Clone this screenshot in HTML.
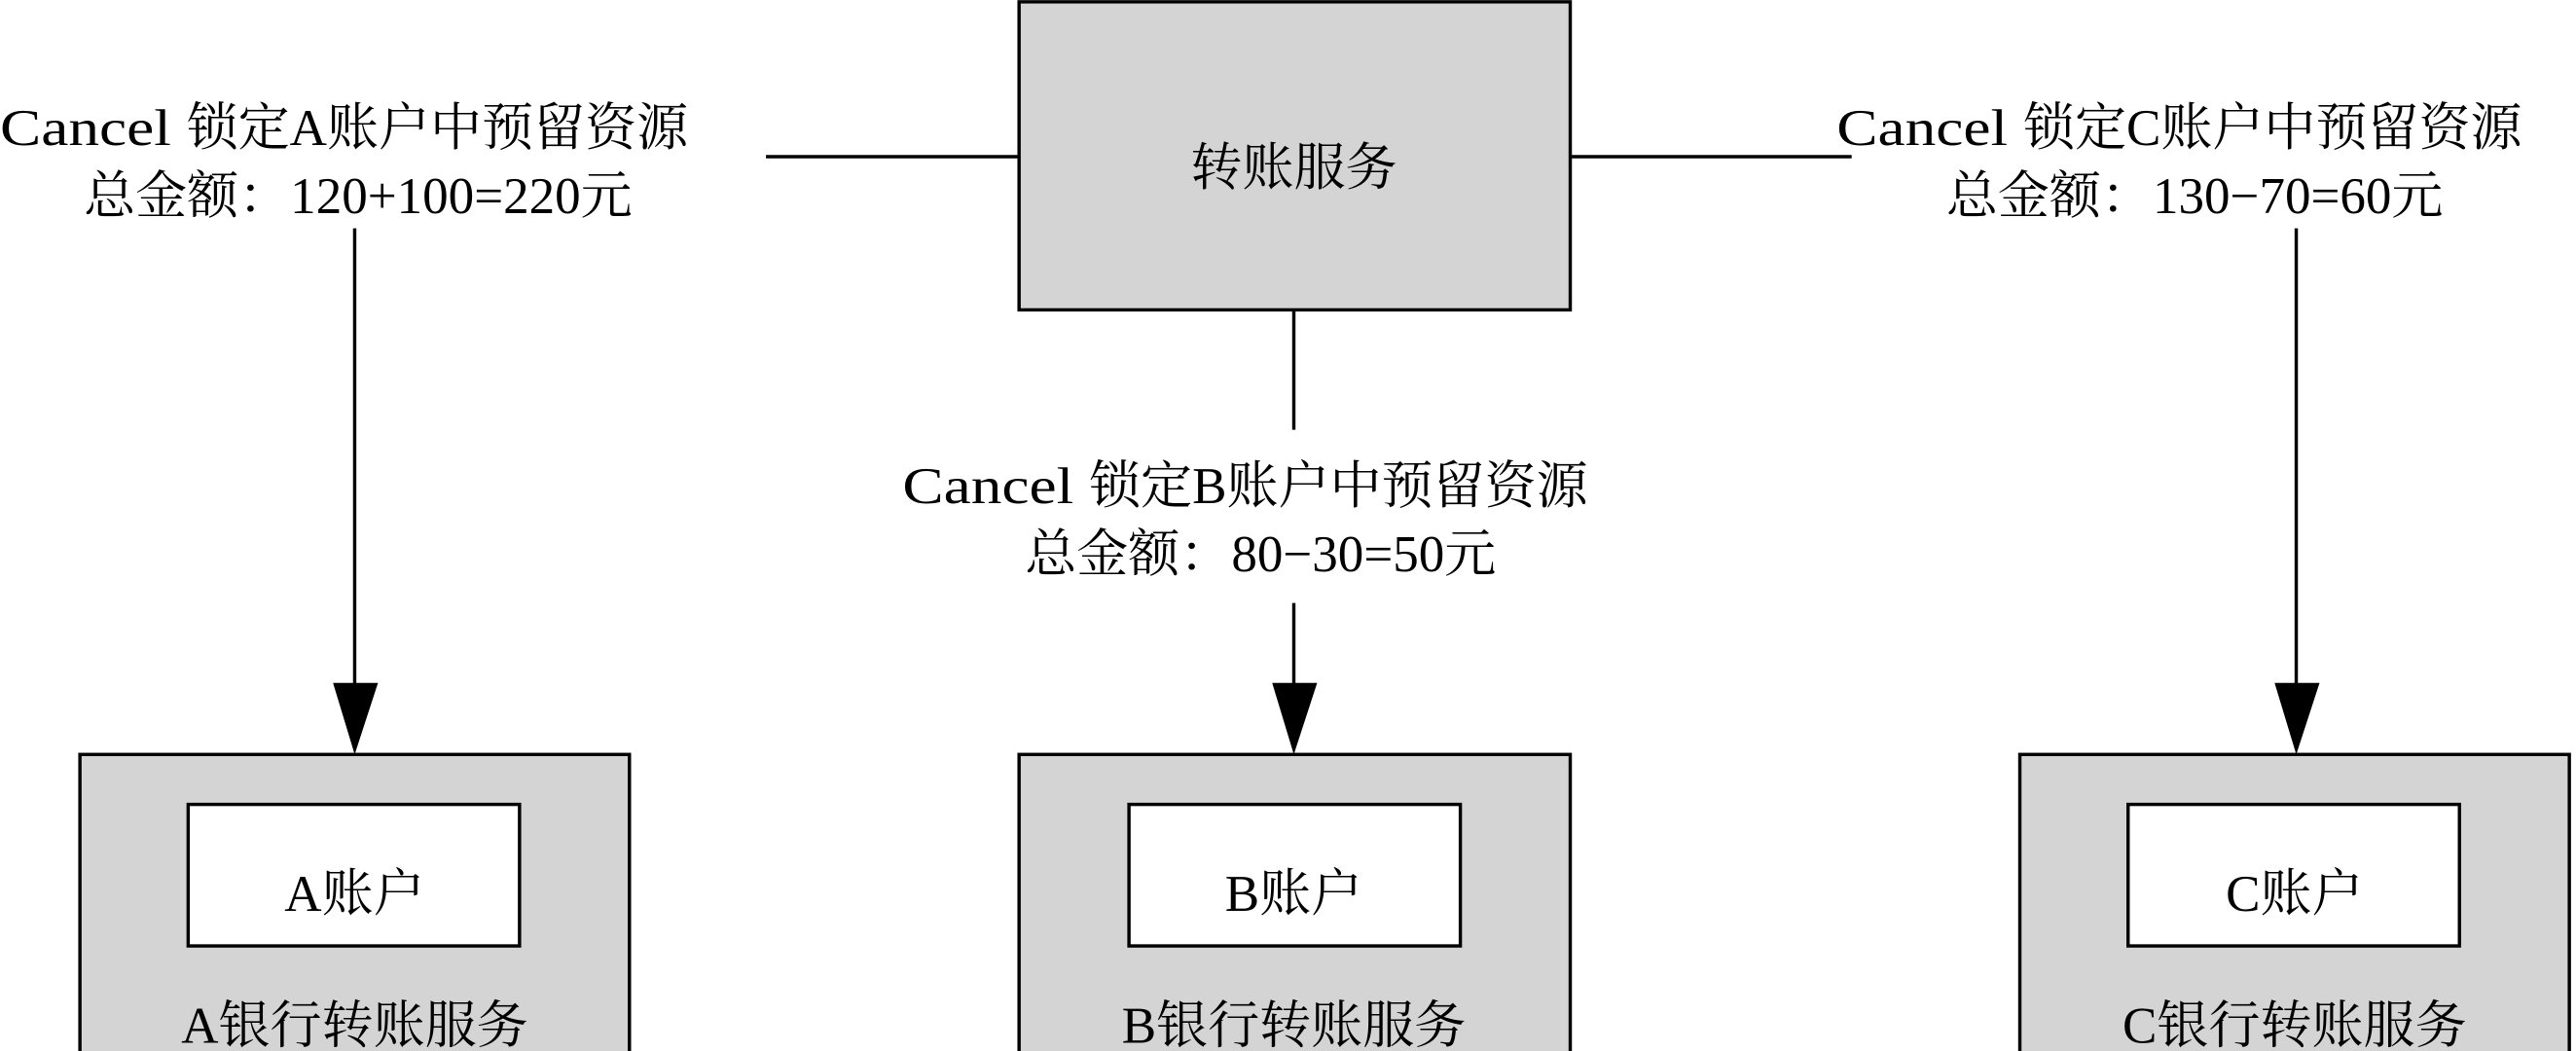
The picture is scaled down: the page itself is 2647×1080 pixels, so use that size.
<!DOCTYPE html>
<html><head><meta charset="utf-8"><style>
html,body{margin:0;padding:0;background:#fff;overflow:hidden}
svg{display:block}
text{font-family:"Liberation Serif","Noto Serif CJK SC",serif;font-size:31px;fill:#000}
</style></head><body>
<svg width="2647" height="1080" viewBox="0 0 1547 631" xmlns="http://www.w3.org/2000/svg">
<g stroke="#000" stroke-width="2" fill="#d4d4d4">
<rect x="612" y="1" width="331" height="185"/>
<rect x="48" y="453" width="330" height="190"/>
<rect x="612" y="453" width="331" height="190"/>
<rect x="1213" y="453" width="330" height="190"/>
</g>
<g stroke="#000" stroke-width="2" fill="#fff">
<rect x="113" y="483" width="199" height="85"/>
<rect x="678" y="483" width="199" height="85"/>
<rect x="1278" y="483" width="199" height="85"/>
</g>
<g stroke="#000" stroke-width="2">
<line x1="460" y1="94" x2="612" y2="94"/>
<line x1="943" y1="94" x2="1112" y2="94"/>
<line x1="213" y1="137" x2="213" y2="412"/>
<line x1="777" y1="186" x2="777" y2="258"/>
<line x1="777" y1="362" x2="777" y2="412"/>
<line x1="1379" y1="137" x2="1379" y2="412"/>
</g>
<g fill="#000">
<polygon points="200,410 227,410 213,453"/>
<polygon points="764,410 791,410 777,453"/>
<polygon points="1366,410 1393,410 1379,453"/>
</g>
<text x="0" y="87"><tspan textLength="112" lengthAdjust="spacingAndGlyphs">Cancel </tspan>锁定A账户中预留资源</text>
<text x="1103" y="87"><tspan textLength="112" lengthAdjust="spacingAndGlyphs">Cancel </tspan>锁定C账户中预留资源</text>
<text x="542" y="302"><tspan textLength="112" lengthAdjust="spacingAndGlyphs">Cancel </tspan>锁定B账户中预留资源</text>
<g text-anchor="middle">
<text x="777" y="111">转账服务</text>
<text x="215" y="128">总金额：120+100=220元</text>
<text x="1318" y="128">总金额：130−70=60元</text>
<text x="757" y="343">总金额：80−30=50元</text>
<text x="213" y="547">A账户</text>
<text x="777" y="547">B账户</text>
<text x="1378" y="547">C账户</text>
<text x="213" y="626">A银行转账服务</text>
<text x="777" y="626">B银行转账服务</text>
<text x="1378" y="626">C银行转账服务</text>
</g>
</svg>
</body></html>
